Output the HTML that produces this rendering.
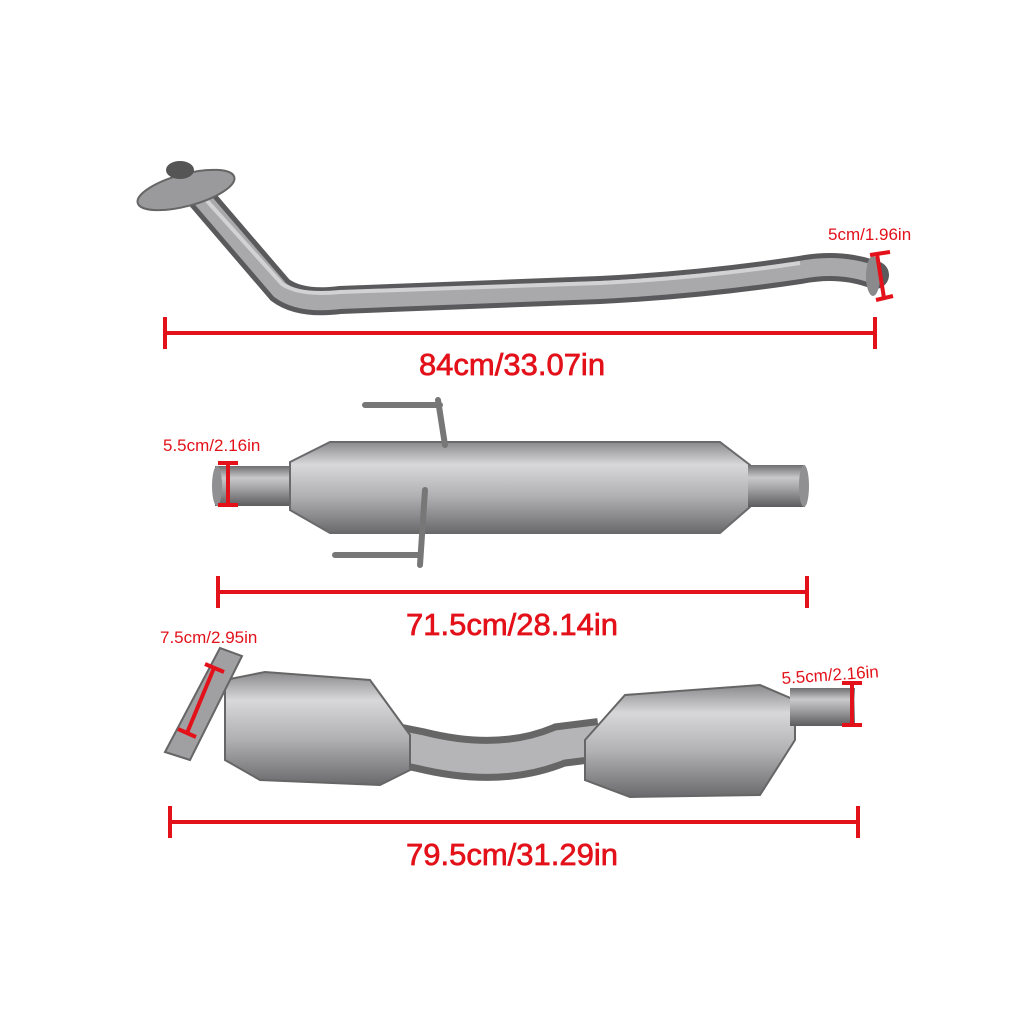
<!DOCTYPE html>
<html><head><style>
html,body{margin:0;padding:0;background:#fff;}
svg{display:block}
text{font-family:"Liberation Sans",sans-serif;fill:#e3111a;}
.big{stroke:#e3111a;stroke-width:0.7px;}
</style></head><body>
<svg width="1024" height="1024" viewBox="0 0 1024 1024" xmlns="http://www.w3.org/2000/svg">
<defs>
<linearGradient id="gv" x1="0" y1="0" x2="0" y2="1">
<stop offset="0" stop-color="#6e6e70"/><stop offset="0.3" stop-color="#c9c9cb"/><stop offset="0.55" stop-color="#a5a5a7"/><stop offset="1" stop-color="#5c5c5e"/>
</linearGradient>
<linearGradient id="gb" x1="0" y1="0" x2="0" y2="1">
<stop offset="0" stop-color="#8a8a8c"/><stop offset="0.25" stop-color="#d8d8da"/><stop offset="0.6" stop-color="#b0b0b2"/><stop offset="1" stop-color="#6a6a6c"/>
</linearGradient>
</defs>
<!-- top pipe -->
<path d="M190 185 L280 290 Q300 305 340 300 L600 290 Q700 285 800 270 Q840 262 875 275" fill="none" stroke="#5a5a5c" stroke-width="28" stroke-linecap="round"/>
<path d="M190 185 L280 290 Q300 305 340 300 L600 290 Q700 285 800 270 Q840 262 875 275" fill="none" stroke="#a9a9ab" stroke-width="18"/>
<path d="M190 182 L282 284 Q300 296 340 292 L600 283 Q700 278 800 263" fill="none" stroke="#d2d2d4" stroke-width="4"/>
<ellipse cx="186" cy="190" rx="50" ry="16" transform="rotate(-15 186 190)" fill="#9a9a9c" stroke="#666" stroke-width="2"/>
<ellipse cx="180" cy="170" rx="14" ry="9" fill="#555"/>
<ellipse cx="873" cy="276" rx="7" ry="20" fill="#8a8a8c"/>
<!-- dims top -->
<g stroke="#e3111a" stroke-width="4">
<line x1="165" y1="333" x2="875" y2="333"/><line x1="165" y1="317" x2="165" y2="349"/><line x1="875" y1="317" x2="875" y2="349"/>
<line x1="877" y1="254" x2="884" y2="298"/><line x1="870" y1="255" x2="890" y2="252"/><line x1="876" y1="300" x2="893" y2="296"/>
</g>
<text class="big" x="512" y="375" font-size="31" text-anchor="middle">84cm/33.07in</text>
<text x="828" y="240" font-size="17">5cm/1.96in</text>
<!-- muffler -->
<rect x="215" y="466" width="80" height="40" fill="url(#gv)"/>
<path d="M290 462 L330 442 L720 442 L750 465 L750 507 L720 533 L330 533 L290 510 Z" fill="url(#gb)" stroke="#6a6a6c" stroke-width="2"/>
<rect x="748" y="465" width="57" height="42" fill="url(#gv)"/>
<ellipse cx="804" cy="486" rx="5" ry="21" fill="#909092"/>
<ellipse cx="217" cy="486" rx="5" ry="20" fill="#909092"/>
<g stroke="#777" stroke-width="6" stroke-linecap="round">
<line x1="365" y1="405" x2="440" y2="405"/><line x1="438" y1="400" x2="445" y2="445"/>
<line x1="335" y1="555" x2="420" y2="555"/><line x1="425" y1="490" x2="420" y2="565"/>
</g>
<!-- dims mid -->
<g stroke="#e3111a" stroke-width="4">
<line x1="228" y1="463" x2="228" y2="505"/><line x1="218" y1="463" x2="238" y2="463"/><line x1="218" y1="505" x2="238" y2="505"/>
<line x1="218" y1="592" x2="807" y2="592"/><line x1="218" y1="576" x2="218" y2="608"/><line x1="807" y1="576" x2="807" y2="608"/>
</g>
<text x="163" y="451" font-size="17">5.5cm/2.16in</text>
<text class="big" x="512" y="635" font-size="31" text-anchor="middle">71.5cm/28.14in</text>
<!-- bottom cats -->
<path d="M370 740 L420 750 Q500 770 560 745 L600 740" fill="none" stroke="#666" stroke-width="44"/>
<path d="M370 740 L420 750 Q500 770 560 745 L600 740" fill="none" stroke="#b5b5b7" stroke-width="30"/>
<path d="M225 680 L265 672 L370 680 L410 735 L410 770 L380 785 L260 780 L225 760 Z" fill="url(#gb)" stroke="#666" stroke-width="2"/>
<path d="M585 740 L625 695 L760 685 L795 700 L795 740 L760 795 L630 797 L585 780 Z" fill="url(#gb)" stroke="#666" stroke-width="2"/>
<rect x="790" y="688" width="65" height="38" fill="url(#gv)"/>
<polygon points="165,752 220,648 242,656 190,760" fill="#a0a0a2" stroke="#666" stroke-width="2"/>
<!-- dims bottom -->
<g stroke="#e3111a" stroke-width="4">
<line x1="214" y1="668" x2="187" y2="733"/><line x1="205" y1="664" x2="224" y2="672"/><line x1="178" y1="729" x2="196" y2="737"/>
<line x1="852" y1="683" x2="852" y2="725"/><line x1="842" y1="683" x2="862" y2="683"/><line x1="842" y1="725" x2="862" y2="725"/>
<line x1="170" y1="822" x2="858" y2="822"/><line x1="170" y1="806" x2="170" y2="838"/><line x1="858" y1="806" x2="858" y2="838"/>
</g>
<text x="160" y="643" font-size="17">7.5cm/2.95in</text>
<text x="782" y="684" font-size="17" transform="rotate(-4 782 684)">5.5cm/2.16in</text>
<text class="big" x="512" y="865" font-size="31" text-anchor="middle">79.5cm/31.29in</text>
</svg>
</body></html>
